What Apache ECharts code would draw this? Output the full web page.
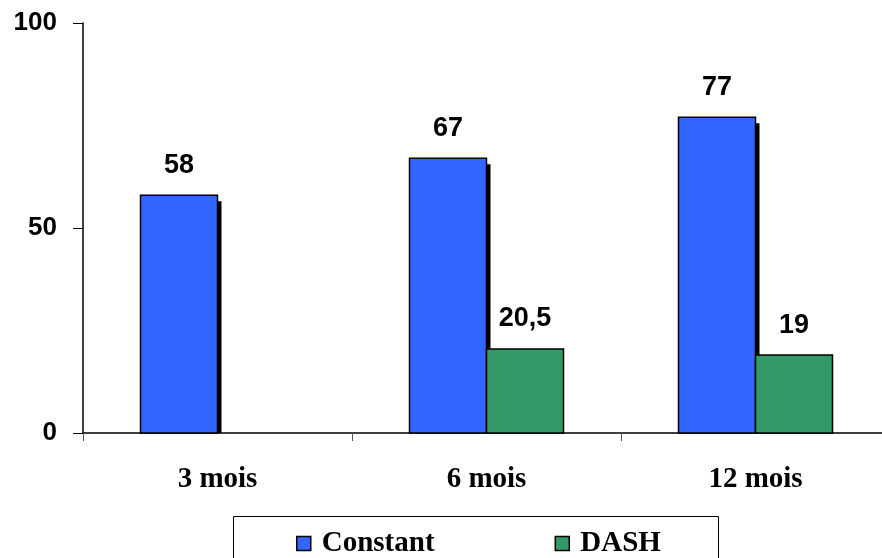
<!DOCTYPE html>
<html>
<head>
<meta charset="utf-8">
<script src="https://cdn.jsdelivr.net/npm/echarts@6/dist/echarts.min.js"></script>
<style>html,body{margin:0;padding:0;background:#fff;overflow:hidden}#c{width:890px;height:558px}</style>
</head>
<body>
<div id="c"></div>
<script>
const categories = ['3 mois', '6 mois', '12 mois'];
const constantValues = [58, 67, 77];
const dashValues = [null, 20.5, 19];
const yTicks = [0, 50, 100];

const BAR_W = 77;
const labelFont = 'bold 27px "Liberation Sans"';
function makeRender(side, fill, shadow) {
  return function (params, api) {
    const v = api.value(1);
    if (v == null || isNaN(v)) return null;
    const top = api.coord([api.value(0), v]);
    const base = api.coord([api.value(0), 0]);
    const left = side < 0 ? top[0] - BAR_W : top[0];
    const h = base[1] - top[1];
    const children = [];
    if (shadow) {
      children.push({ type: 'rect', shape: { x: left + 4, y: top[1] + 6, width: BAR_W, height: h - 6 },
        style: { fill: '#000' } });
    }
    children.push({ type: 'rect', shape: { x: left, y: top[1], width: BAR_W, height: h },
      style: { fill: fill, stroke: '#000', lineWidth: 1.5 } });
    children.push({ type: 'text', style: {
      text: String(v).replace('.', ','), x: left + BAR_W / 2, y: top[1] - 30,
      align: 'center', verticalAlign: 'middle', font: labelFont, fill: '#000' } });
    return { type: 'group', children: children };
  };
}

const chart = echarts.init(document.getElementById('c'));
chart.setOption({
  animation: false,
  backgroundColor: '#fff',
  grid: { left: 83, right: 0, top: 23, bottom: 125, containLabel: false },
  graphic: [{
    type: 'rect', left: 233, top: 516,
    shape: { width: 485, height: 50 },
    style: { fill: '#fff', stroke: '#000', lineWidth: 1 }, z: 0
  }],
  legend: {
    left: 291, top: 524, itemWidth: 14, itemHeight: 14, itemGap: 120,
    icon: 'rect',
    itemStyle: { borderColor: '#000', borderWidth: 1.5 },
    textStyle: { fontFamily: 'Liberation Serif', fontWeight: 'bold', fontSize: 29, color: '#000', padding: [0,0,0,6] },
    data: ['Constant', 'DASH'], z: 5
  },
  xAxis: {
    type: 'category', data: categories,
    axisLine: { lineStyle: { color: '#000', width: 1.5 } },
    axisTick: { show: true, length: 8, lineStyle: { color: '#555' } },
    axisLabel: { margin: 32, fontFamily: 'Liberation Serif', fontWeight: 'bold', fontSize: 29, color: '#000' }
  },
  yAxis: {
    type: 'value', min: yTicks[0], max: yTicks[yTicks.length - 1], interval: 50,
    splitLine: { show: false },
    axisLine: { show: true, lineStyle: { color: '#000', width: 1.5 } },
    axisTick: { show: true, length: 10, lineStyle: { color: '#000' } },
    axisLabel: { margin: 26, fontFamily: 'Liberation Sans', fontWeight: 'bold', fontSize: 26, color: '#000' }
  },
  series: [{
    name: 'Constant', type: 'custom',
    data: constantValues.map((v, i) => [i, v]),
    encode: { x: 0, y: 1 },
    itemStyle: { color: '#3366FF', borderColor: '#000', borderWidth: 1.5 },
    renderItem: makeRender(-1, '#3366FF', true)
  }, {
    name: 'DASH', type: 'custom',
    data: dashValues.map((v, i) => [i, v]),
    encode: { x: 0, y: 1 },
    itemStyle: { color: '#339966', borderColor: '#000', borderWidth: 1.5 },
    renderItem: makeRender(1, '#339966', false)
  }]
});
</script>
</body>
</html>
